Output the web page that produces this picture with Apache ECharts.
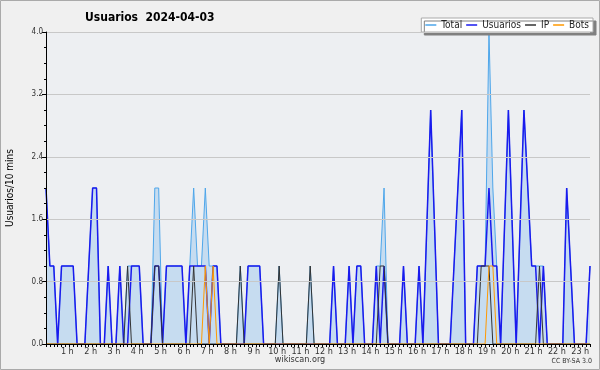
<!DOCTYPE html>
<html><head><meta charset="utf-8">
<script src="https://cdn.jsdelivr.net/npm/echarts@6/dist/echarts.min.js"></script>
<style>html,body{margin:0;padding:0;background:#f0f0f0}#c{width:600px;height:370px}</style>
</head><body><div id="c"></div>
<script>
// 10-minute slots, 0:00 .. 23:20
const slots = [];
for (let i = 0; i <= 140; i++) { const m = i * 10; slots.push(String(Math.floor(m / 60)).padStart(2, '0') + ':' + String(m % 60).padStart(2, '0')); }

const usuarios = [2,1,1,0,1,1,1,1,0,0, 0,1,2,2,0,0,1,0,0,1, 0,0,1,1,1,0,0,0,1,1,
  0,1,1,1,1,1,0,1,1,1, 1,1,0,1,1,0,0,0,0,0, 0,0,1,1,1,1,0,0,0,0,
  0,0,0,0,0,0,0,0,0,0, 0,0,0,0,1,0,0,0,1,0, 1,1,0,0,0,1,0,1,0,0,
  0,0,1,0,0,0,1,0,1.5,3, 1.5,0,0,0,0,1,2,3,0,0, 0,1,1,1,2,1,1,0,1.5,3,
  1.5,0,1.5,3,2,1,1,0,1,0, 0,0,0,0,2,1,0,0,0,0, 1];
const total = [2,1,1,0,1,1,1,1,0,0, 0,1,2,2,0,0,1,0,0,1, 0,1,1,1,1,0,0,0,2,2,
  0,1,1,1,1,1,0,1,2,1, 1,2,1,1,1,0,0,0,0,0, 1,0,1,1,1,1,0,0,0,0,
  1,0,0,0,0,0,0,0,1,0, 0,0,0,0,1,0,0,0,1,0, 1,1,0,0,0,1,1,2,0,0,
  0,0,1,0,0,0,1,0,1.5,3, 1.5,0,0,0,0,1,2,3,0,0, 0,1,1,1,4,2,1,0,1.5,3,
  1.5,0,1.5,3,2,1,1,1,1,0, 0,0,0,0,2,1,0,0,0,0, 1];
const ip = [0,0,0,0,0,0,0,0,0,0, 0,0,0,0,0,0,0,0,0,0, 0,1,0,0,0,0,0,0,1,1,
  0,0,0,0,0,0,0,0,1,0, 0,0,0,0,0,0,0,0,0,0, 1,0,0,0,0,0,0,0,0,0,
  1,0,0,0,0,0,0,0,1,0, 0,0,0,0,0,0,0,0,0,0, 0,0,0,0,0,0,1,1,0,0,
  0,0,0,0,0,0,0,0,0,0, 0,0,0,0,0,0,0,0,0,0, 0,0,1,1,1,0,0,0,0,0,
  0,0,0,0,0,0,0,1,0,0, 0,0,0,0,0,0,0,0,0,0, 0];
const bots = [0,0,0,0,0,0,0,0,0,0, 0,0,0,0,0,0,0,0,0,0, 0,0,0,0,0,0,0,0,0,0,
  0,0,0,0,0,0,0,0,0,0, 0,1,0,1,0,0,0,0,0,0, 0,0,0,0,0,0,0,0,0,0,
  0,0,0,0,0,0,0,0,0,0, 0,0,0,0,0,0,0,0,0,0, 0,0,0,0,0,0,0,0,0,0,
  0,0,0,0,0,0,0,0,0,0, 0,0,0,0,0,0,0,0,0,0, 0,0,0,0,1,1,0,0,0,0,
  0,0,0,0,0,0,0,0,0,0, 0,0,0,0,0,0,0,0,0,0, 0];
const yTicks = [0, 0.8, 1.6, 2.4, 3.2, 4.0];

const chart = echarts.init(document.getElementById('c'));
const F = '"DejaVu Sans Condensed", "DejaVu Sans"';
const line = (name, data, color, width, z, area) => ({
  name, type: 'line', data, symbol: 'none', z,
  lineStyle: { color, width }, itemStyle: { color },
  areaStyle: area ? { color: '#c6dcf0', opacity: 1 } : undefined,
  animation: false
});
chart.setOption({
  backgroundColor: '#f0f0f0',
  animation: false,
  textStyle: { fontFamily: F },
  title: { text: 'Usuarios  2024-04-03', left: 80, top: 7,
    textStyle: { fontFamily: F, fontSize: 12, fontWeight: 'bold', color: '#000' } },
  legend: {
    right: 7, top: 18, itemGap: 4, itemWidth: 11, itemHeight: 1.5, icon: 'rect',
    padding: [2, 4, 2, 4],
    backgroundColor: '#ffffff', borderColor: '#aaa', borderWidth: 1,
    shadowColor: '#808080', shadowOffsetX: 3, shadowOffsetY: 3, shadowBlur: 0,
    textStyle: { fontFamily: F, fontSize: 10, color: '#222' },
    data: ['Total', 'Usuarios', 'IP', 'Bots']
  },
  grid: { left: 46, right: 10, top: 32, bottom: 26, outerBoundsMode: 'none', containLabel: false,
    show: true, backgroundColor: '#edeff2', borderWidth: 0 },
  xAxis: {
    type: 'category', data: slots, boundaryGap: false, z: 10,
    axisLine: { lineStyle: { color: '#000', width: 1 } },
    axisTick: { interval: 0, length: 3, lineStyle: { color: '#000' } },
    axisLabel: {
      interval: (i) => i % 6 === 0 && i > 0,
      formatter: (v) => parseInt(v.slice(0, 2), 10) + ' h',
      fontFamily: F, fontSize: 9, color: '#333', margin: 3, padding: [0, 4, 0, 0]
    },
    splitLine: { show: false }
  },
  yAxis: {
    type: 'value', min: yTicks[0], max: yTicks[yTicks.length - 1], interval: 0.8, z: 10,
    name: 'Usuarios/10 mins', nameLocation: 'middle', nameGap: 31, nameRotate: 90,
    nameTextStyle: { fontFamily: F, fontSize: 10, color: '#000' },
    axisLine: { show: true, lineStyle: { color: '#000' } },
    axisTick: { show: true, length: 4, lineStyle: { color: '#000' } },
    minorTick: { show: true, splitNumber: 4, length: 2, lineStyle: { color: '#000' } },
    axisLabel: { formatter: (v) => v.toFixed(1), fontFamily: F, fontSize: 8, color: '#333', margin: 3 },
    splitLine: { lineStyle: { color: '#c8c8c8', width: 1 } }
  },
  graphic: [
    { type: 'rect', shape: { x: 0.5, y: 0.5, width: 599, height: 369 }, style: { fill: 'none', stroke: '#aaa', lineWidth: 1 }, z: 100 },
    { type: 'text', left: 'center', top: 355, style: { text: 'wikiscan.org', font: '9px "DejaVu Sans Condensed", "DejaVu Sans"', fill: '#333' } },
    { type: 'text', right: 8, top: 358, style: { text: 'CC BY-SA 3.0', font: '7px "DejaVu Sans Condensed", "DejaVu Sans"', fill: '#333' } }
  ],
  series: [
    line('Total', total, '#4ea6ea', 1, 2, true),
    line('Usuarios', usuarios, '#1a1aee', 1.5, 3, false),
    line('IP', ip, '#333333', 1, 4, false),
    line('Bots', bots, '#ff9900', 1, 5, false)
  ]
});
</script></body></html>
